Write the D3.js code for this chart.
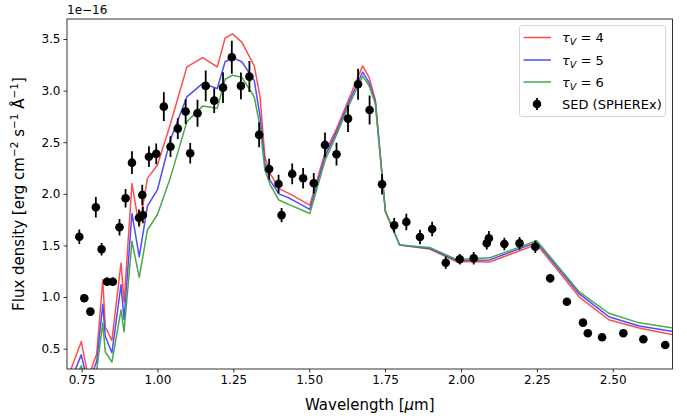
<!DOCTYPE html>
<html><head><meta charset="utf-8">
<script src="https://cdn.jsdelivr.net/npm/d3@7"></script>
<style>body{margin:0;background:#fff}svg{font-family:"DejaVu Sans",sans-serif}</style>
</head><body><svg id="c" width="687" height="419"></svg>
<script>
// SED data (units of 1e-16)
const sedWave = [0.7425,0.759,0.779,0.797,0.816,0.834,0.853,0.875,0.895,0.916,0.939,0.950,0.952,0.972,0.996,1.021,1.043,1.067,1.093,1.108,1.132,1.159,1.187,1.216,1.245,1.275,1.303,1.335,1.368,1.399,1.409,1.444,1.480,1.515,1.552,1.590,1.628,1.661,1.699,1.740,1.780,1.820,1.865,1.905,1.950,1.996,2.042,2.085,2.092,2.143,2.193,2.245,2.294,2.349,2.402,2.418,2.465,2.535,2.601,2.673];
const sedFlux = [1.585,0.988,0.859,1.870,1.463,1.149,1.149,1.676,1.957,2.302,1.769,1.989,1.795,2.360,2.387,2.845,2.457,2.632,2.797,2.393,2.781,3.046,2.903,3.029,3.324,3.046,3.136,2.571,2.241,2.095,1.794,2.193,2.151,2.103,2.474,2.384,2.729,3.062,2.813,2.093,1.696,1.728,1.582,1.660,1.333,1.366,1.376,1.521,1.570,1.514,1.521,1.488,1.182,0.955,0.752,0.649,0.610,0.649,0.591,0.536];
const sedErr = [0.07,0.03,0.03,0.10,0.06,0.04,0.04,0.08,0.09,0.11,0.08,0.10,0.08,0.10,0.10,0.14,0.10,0.10,0.12,0.10,0.13,0.15,0.12,0.15,0.16,0.13,0.15,0.12,0.10,0.09,0.07,0.10,0.10,0.10,0.12,0.11,0.13,0.15,0.14,0.10,0.07,0.08,0.07,0.07,0.06,0.05,0.06,0.06,0.07,0.06,0.06,0.06,0.04,0.03,0.02,0.02,0.01,0.01,0.01,0.01];

// Model grid
const modelWave = [0.705,0.749,0.772,0.800,0.820,0.828,0.850,0.880,0.890,0.916,0.940,0.967,1.000,1.042,1.097,1.149,1.197,1.223,1.247,1.278,1.319,1.338,1.354,1.371,1.400,1.436,1.502,1.552,1.590,1.628,1.676,1.697,1.718,1.751,1.798,1.897,1.985,2.094,2.250,2.390,2.487,2.587,2.700];
const modelTau4 = [0.22,0.57,0.22,0.45,1.17,0.71,0.58,1.33,0.95,2.10,1.68,2.15,2.28,2.67,3.23,3.32,3.23,3.51,3.55,3.47,3.24,2.94,2.36,2.20,2.05,2.00,1.89,2.40,2.63,2.90,3.24,3.13,2.91,1.83,1.505,1.465,1.345,1.34,1.51,1.00,0.78,0.70,0.633];
const modelTau5 = [0.12,0.44,0.15,0.38,0.93,0.62,0.46,1.12,0.78,1.81,1.39,1.88,2.04,2.52,2.94,3.07,3.02,3.28,3.32,3.28,3.10,2.75,2.30,2.13,2.00,1.957,1.85,2.36,2.60,2.87,3.18,3.08,2.89,1.83,1.505,1.47,1.355,1.36,1.53,1.03,0.81,0.72,0.665];
const modelTau6 = [0.05,0.335,0.10,0.30,0.75,0.47,0.37,0.875,0.665,1.54,1.19,1.65,1.80,2.15,2.70,2.85,2.83,3.11,3.15,3.13,2.94,2.65,2.23,2.09,1.94,1.893,1.81,2.32,2.57,2.84,3.14,3.05,2.87,1.83,1.505,1.48,1.365,1.38,1.545,1.05,0.843,0.75,0.70];

const xTicks = [0.75,1.00,1.25,1.50,1.75,2.00,2.25,2.50];
const yTicks = [0.5,1.0,1.5,2.0,2.5,3.0,3.5];
const seriesNames = ["4","5","6"];
const seriesColors = ["#ff4d4d","#4d4dff","#4da64d"];

const svg = d3.select("#c");
const L=67,R=672.5,T=19,B=369;
const x = d3.scaleLinear().domain([0.702,2.697]).range([L,R]);
const y = d3.scaleLinear().domain([0.303,3.694]).range([B,T]);

svg.append("clipPath").attr("id","clip").append("rect").attr("x",L).attr("y",T).attr("width",R-L).attr("height",B-T);
const g = svg.append("g").attr("clip-path","url(#clip)");

const line = d3.line().x((d,i)=>x(modelWave[i])).y(d=>y(d));
[modelTau4,modelTau5,modelTau6].forEach((s,k)=>{
  g.append("path").datum(s).attr("d",line).attr("fill","none")
   .attr("stroke",seriesColors[k]).attr("stroke-width",1.5).attr("stroke-linejoin","round");
});

const pts = sedWave.map((w,i)=>({w,f:sedFlux[i],e:sedErr[i]}));
g.selectAll("line.err").data(pts).enter().append("line")
  .attr("x1",d=>x(d.w)).attr("x2",d=>x(d.w))
  .attr("y1",d=>y(d.f-d.e)).attr("y2",d=>y(d.f+d.e))
  .attr("stroke","#000").attr("stroke-width",1.8);
g.selectAll("circle").data(pts).enter().append("circle")
  .attr("cx",d=>x(d.w)).attr("cy",d=>y(d.f)).attr("r",4.3).attr("fill","#000");

// axes
const xa = svg.append("g").attr("transform",`translate(0,${B})`)
  .call(d3.axisBottom(x).tickValues(xTicks).tickFormat(d3.format(".2f")).tickSize(3.5).tickPadding(3));
const ya = svg.append("g").attr("transform",`translate(${L},0)`)
  .call(d3.axisLeft(y).tickValues(yTicks).tickFormat(d3.format(".1f")).tickSize(3.5).tickPadding(3));
[xa,ya].forEach(a=>{a.select(".domain").remove();
  a.selectAll("text").attr("font-size",12).attr("fill","#000").attr("font-family","DejaVu Sans");
  a.selectAll("line").attr("stroke","#000").attr("stroke-width",0.8);});
svg.append("rect").attr("x",L).attr("y",T).attr("width",R-L).attr("height",B-T)
  .attr("fill","none").attr("stroke","#000").attr("stroke-width",0.8);

svg.append("text").attr("x",L).attr("y",14).attr("font-size",12).text("1e\u221216");

svg.append("text").attr("x",(L+R)/2).attr("y",410).attr("text-anchor","middle").attr("font-size",15)
  .call(t=>{t.append("tspan").text("Wavelength [");t.append("tspan").attr("font-style","italic").text("\u03bc");t.append("tspan").text("m]");});

const yl = svg.append("text").attr("transform",`translate(24,${(T+B)/2}) rotate(-90)`).attr("text-anchor","middle").attr("font-size",15);
yl.append("tspan").text("Flux density [erg cm");
yl.append("tspan").attr("font-size",10.5).attr("dy",-6).text("\u22122");
yl.append("tspan").attr("dy",6).text(" s");
yl.append("tspan").attr("font-size",10.5).attr("dy",-6).text("\u22121");
yl.append("tspan").attr("dy",6).text(" \u00c5");
yl.append("tspan").attr("font-size",10.5).attr("dy",-6).text("\u22121");
yl.append("tspan").attr("dy",6).text("]");

// legend
const lg = svg.append("g");
lg.append("rect").attr("x",519.5).attr("y",25.5).attr("width",146).attr("height",91).attr("rx",2.5)
  .attr("fill","#fff").attr("fill-opacity",0.8).attr("stroke","#cccccc").attr("stroke-width",0.8);
const rowsY=[37.5,60,82,104];
seriesNames.forEach((n,k)=>{
  lg.append("line").attr("x1",523.5).attr("x2",551).attr("y1",rowsY[k]).attr("y2",rowsY[k])
    .attr("stroke",seriesColors[k]).attr("stroke-width",1.5);
  const t=lg.append("text").attr("x",562).attr("y",rowsY[k]+4.5).attr("font-size",13);
  t.append("tspan").attr("font-style","italic").text("\u03c4");
  t.append("tspan").attr("font-style","italic").attr("font-size",9.5).attr("dy",3).text("V");
  t.append("tspan").attr("dy",-3).text(" = "+n);
});
lg.append("line").attr("x1",537).attr("x2",537).attr("y1",rowsY[3]-6).attr("y2",rowsY[3]+6).attr("stroke","#000").attr("stroke-width",1.8);
lg.append("circle").attr("cx",537).attr("cy",rowsY[3]).attr("r",4.3).attr("fill","#000");
lg.append("text").attr("x",562).attr("y",rowsY[3]+4.5).attr("font-size",13).text("SED (SPHEREx)");
</script></body></html>
